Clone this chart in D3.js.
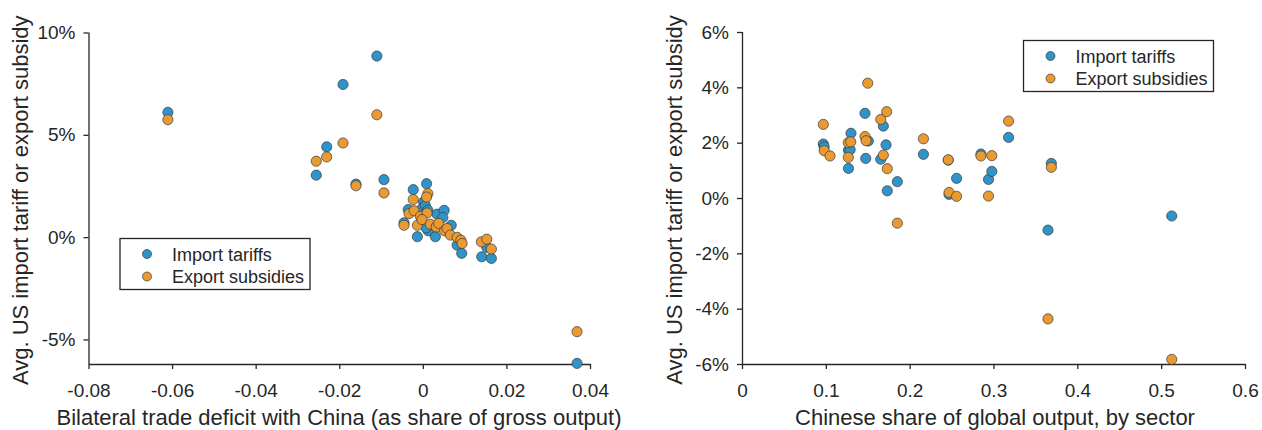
<!DOCTYPE html>
<html>
<head>
<meta charset="utf-8">
<script src="https://cdn.jsdelivr.net/npm/d3@7"></script>
<style>
  html, body { margin: 0; padding: 0; background: #fff; }
  svg { display: block; }
  text { font-family: "Liberation Sans", Arial, Helvetica, sans-serif; fill: #262626; }
</style>
</head>
<body>
<svg id="chart" width="1262" height="430"></svg>
<script>
// ---------------- DATA ----------------
const seriesNames = ["Import tariffs", "Export subsidies"];
const seriesColors = ["#2E94C9", "#E99A32"];

// Left panel: bilateral trade deficit with China (share of gross output) vs avg tariff/subsidy (%)
const leftImport = [
  [-0.061, 6.10], [-0.011, 8.85], [-0.0191, 7.46], [-0.023, 4.41], [-0.0255, 3.03],
  [-0.016, 2.59], [-0.0093, 2.81], [-0.0023, 2.32], [0.0009, 2.61], [0.0002, 1.72],
  [-0.0035, 1.35], [-0.0002, 1.40], [0.0006, 1.55], [0.0012, 1.32], [0.0034, 1.12],
  [0.0051, 1.31], [0.0048, 0.96], [-0.0045, 0.70], [0.0068, 0.58], [-0.0013, 0.02],
  [0.0013, 0.31], [0.0008, 0.45], [0.0030, 0.02], [0.0082, -0.39], [0.0093, -0.79],
  [0.0153, -0.50], [0.0141, -0.96], [0.0164, -1.04], [0.0369, -6.17]
];
const leftExport = [
  [-0.061, 5.74], [-0.011, 5.98], [-0.0191, 4.60], [-0.023, 3.92], [-0.0255, 3.71],
  [-0.016, 2.51], [-0.0093, 2.16], [0.0012, 2.13], [0.0009, 1.96], [-0.0023, 1.84],
  [-0.0033, 1.15], [-0.0021, 1.29], [-0.0006, 1.02], [0.0010, 1.18], [-0.0045, 0.58],
  [-0.0013, 0.58], [-0.0002, 0.86], [0.0018, 0.63], [0.0032, 0.50], [0.0038, 0.67],
  [0.0052, 0.31], [0.0058, 0.42], [0.0066, 0.10], [0.0082, -0.01], [0.0091, -0.15],
  [0.0094, -0.31], [0.0140, -0.23], [0.0153, -0.10], [0.0164, -0.58], [0.0369, -4.62]
];
const leftXTicks = [-0.08, -0.06, -0.04, -0.02, 0, 0.02, 0.04];
const leftYTicks = [-5, 0, 5, 10];
const leftXDomain = [-0.08, 0.04];
const leftYDomain = [-6.2, 10];

// Right panel: Chinese share of global output by sector vs avg tariff/subsidy (%)
const rightImport = [
  [0.097, 1.95], [0.098, 1.85], [0.130, 2.34], [0.127, 1.73], [0.129, 1.75],
  [0.127, 1.07], [0.1467, 3.06], [0.1507, 2.06], [0.1476, 1.43], [0.1686, 2.60],
  [0.1655, 1.40], [0.1718, 1.92], [0.1733, 0.26], [0.1853, 0.59], [0.2164, 1.58],
  [0.246, 1.37], [0.247, 0.13], [0.256, 0.71], [0.285, 1.59], [0.294, 0.67],
  [0.298, 0.96], [0.318, 2.19], [0.369, 1.25], [0.365, -1.16], [0.5126, -0.65]
];
const rightExport = [
  [0.097, 2.66], [0.098, 1.71], [0.105, 1.52], [0.1268, 2.00], [0.1297, 2.03],
  [0.1268, 1.47], [0.150, 4.15], [0.1467, 2.22], [0.148, 2.07], [0.1655, 2.84],
  [0.1726, 3.12], [0.1686, 1.55], [0.1733, 1.06], [0.1853, -0.91], [0.2164, 2.14],
  [0.246, 1.38], [0.247, 0.20], [0.256, 0.06], [0.285, 1.52], [0.298, 1.53],
  [0.294, 0.07], [0.318, 2.78], [0.369, 1.11], [0.365, -4.37], [0.5126, -5.83]
];
const rightXTicks = [0, 0.1, 0.2, 0.3, 0.4, 0.5, 0.6];
const rightYTicks = [-6, -4, -2, 0, 2, 4, 6];
const rightXDomain = [0, 0.6];
const rightYDomain = [-6, 6];

const yTitle = "Avg. US import tariff or export subsidy";
const leftXTitle = "Bilateral trade deficit with China (as share of gross output)";
const rightXTitle = "Chinese share of global output, by sector";

// ---------------- DRAW ----------------
const svg = d3.select("#chart");
const axisColor = "#262626";

function fmtNum(dec) { return d => d === 0 ? "0" : d.toFixed(dec); }
function fmtPct(d) { return String(d) + "%"; }

function panel(cfg) {
  const g = svg.append("g");
  const x = d3.scaleLinear().domain(cfg.xDomain).range([cfg.left, cfg.right]);
  const y = d3.scaleLinear().domain(cfg.yDomain).range([cfg.bottom, cfg.top]);

  const xAxis = g.append("g")
    .attr("transform", `translate(0,${cfg.bottom})`)
    .call(d3.axisBottom(x).tickValues(cfg.xTicks).tickFormat(cfg.xFmt)
      .tickSizeInner(5).tickSizeOuter(0).tickPadding(15));
  const yAxis = g.append("g")
    .attr("transform", `translate(${cfg.left},0)`)
    .call(d3.axisLeft(y).tickValues(cfg.yTicks).tickFormat(fmtPct)
      .tickSizeInner(5).tickSizeOuter(0).tickPadding(8));

  [xAxis, yAxis].forEach(a => {
    a.select(".domain").attr("stroke", axisColor).attr("stroke-width", 1.3);
    a.selectAll(".tick line").attr("stroke", axisColor).attr("stroke-width", 1.3);
    a.selectAll(".tick text").attr("font-size", 19).style("fill", axisColor)
      .attr("font-family", '"Liberation Sans", Arial, sans-serif');
  });
  yAxis.select(".domain").attr("d", `M0.5,${cfg.bottom}V${cfg.top}`);

  const plot = g.append("g");
  [cfg.imp, cfg.exp].forEach((data, si) => {
    plot.selectAll(null).data(data).enter().append("circle")
      .attr("cx", d => x(d[0]))
      .attr("cy", d => y(d[1]))
      .attr("r", 5.1)
      .attr("fill", seriesColors[si])
      .attr("stroke", "#3a3a3a")
      .attr("stroke-width", 0.7);
  });

  // titles
  g.append("text")
    .attr("x", cfg.xTitleX)
    .attr("y", 425)
    .attr("text-anchor", "middle")
    .attr("font-size", 22)
    .text(cfg.xTitle);
  g.append("text")
    .attr("transform", `translate(${cfg.yTitleX},${(cfg.top + cfg.bottom) / 2 + 2}) rotate(-90)`)
    .attr("text-anchor", "middle")
    .attr("font-size", 22)
    .text(yTitle);

  // legend
  const lg = g.append("g").attr("transform", `translate(${cfg.legend[0]},${cfg.legend[1]})`);
  lg.append("rect").attr("x", 0).attr("y", 0).attr("width", 190).attr("height", 51)
    .attr("fill", "#fff").attr("stroke", axisColor).attr("stroke-width", 1.3);
  seriesNames.forEach((name, i) => {
    const cy = 15.5 + i * 22.5;
    lg.append("circle").attr("cx", 27).attr("cy", cy).attr("r", 4.5)
      .attr("fill", seriesColors[i]).attr("stroke", "#3a3a3a").attr("stroke-width", 0.7);
    lg.append("text").attr("x", 52).attr("y", cy + 6.5).attr("font-size", 18).text(name);
  });
}

panel({
  left: 88.5, right: 590, top: 32.5, bottom: 364,
  xDomain: leftXDomain, yDomain: leftYDomain,
  xTicks: leftXTicks, yTicks: leftYTicks, xFmt: fmtNum(2),
  imp: leftImport, exp: leftExport,
  xTitle: leftXTitle, xTitleX: 339, yTitleX: 28,
  legend: [120, 238.5]
});
panel({
  left: 742, right: 1245, top: 32, bottom: 364,
  xDomain: rightXDomain, yDomain: rightYDomain,
  xTicks: rightXTicks, yTicks: rightYTicks, xFmt: fmtNum(1),
  imp: rightImport, exp: rightExport,
  xTitle: rightXTitle, xTitleX: 995, yTitleX: 682,
  legend: [1023.5, 40.5]
});
</script>
</body>
</html>
